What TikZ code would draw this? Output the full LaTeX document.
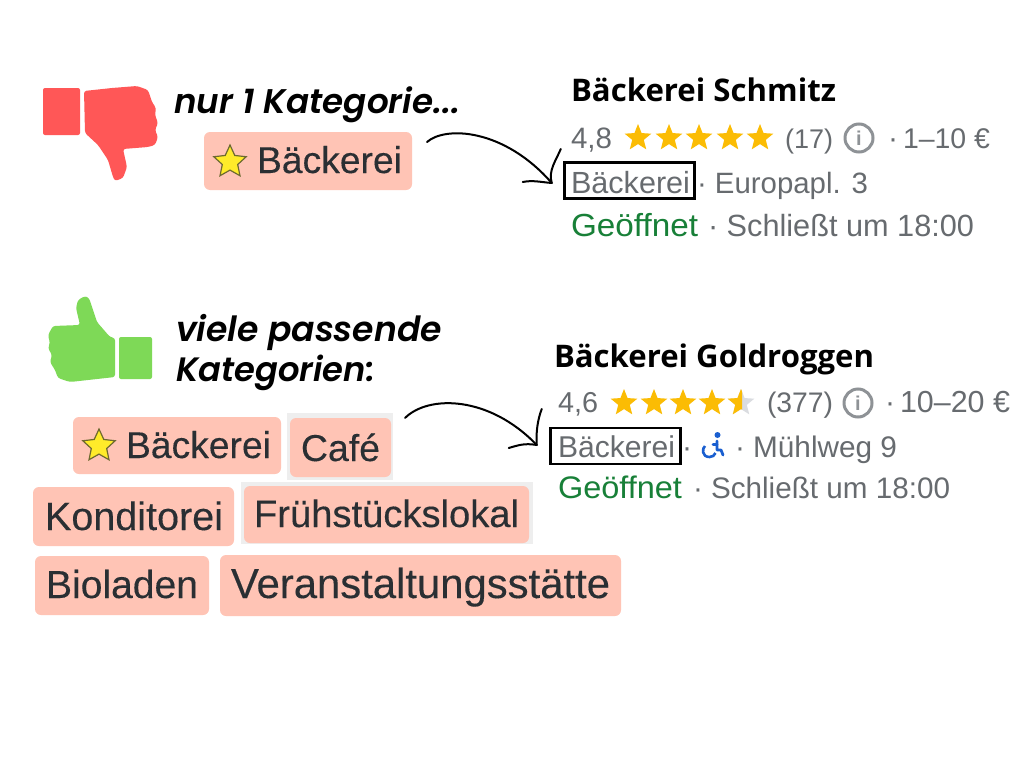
\documentclass[tikz,border=0pt]{standalone}
\usepackage{fontspec}
\usepackage{graphicx}
\usetikzlibrary{shapes.geometric,calc}
\setmainfont{Liberation Sans}
\newfontfamily\chipfont{Liberation Sans}[FakeBold=0.25]
\newfontfamily\headfont{Poppins}[BoldItalicFont={Poppins SemiBold Italic}]
\newfontfamily\titlefont{Open Sans}
\definecolor{chipbg}{HTML}{FFC4B5}
\definecolor{chipink}{HTML}{2A2F33}
\definecolor{greyrect}{HTML}{EEEEEE}
\definecolor{downred}{HTML}{FF5757}
\definecolor{upgreen}{HTML}{7ED957}
\definecolor{mutedink}{HTML}{676B6F}
\definecolor{openink}{HTML}{188038}
\definecolor{staramber}{HTML}{FBBC04}
\definecolor{stargrey}{HTML}{DADCE0}
\definecolor{chipyellow}{HTML}{FFEB2A}
\definecolor{staredge}{HTML}{6E6A30}
\definecolor{wheelblue}{HTML}{1A5FD0}
\definecolor{iconring}{HTML}{8E9296}
\newcommand\fitw[2]{\resizebox{#1pt}{!}{#2}}
\newcommand\fitsq[2]{\scalebox{1}[0.96]{\resizebox{#1pt}{!}{#2}}}
\tikzset{
  txt/.style={inner sep=0pt,outer sep=0pt,anchor=base west,font=\fontsize{30}{30}\selectfont},
  headtxt/.style={txt,font=\fontsize{30}{30}\selectfont\headfont\bfseries\itshape,text=black},
  titletxt/.style={txt,font=\fontsize{30}{30}\selectfont\titlefont\bfseries,text=black},
  chiptxt/.style={txt,text=chipink,font=\fontsize{30}{30}\selectfont\chipfont},
  mutedtxt/.style={txt,text=mutedink},
  opentxt/.style={txt,text=openink},
  chip/.style={fill=chipbg,draw=none,rounded corners=6pt},
  greyback/.style={fill=greyrect,draw=none},
  ratestar/.style={star,star points=5,star point ratio=2.3,fill=staramber,draw=none,inner sep=0pt,minimum size=28pt},
  ratestargrey/.style={ratestar,fill=stargrey},
  chipstar/.style={star,star points=5,star point ratio=2.1,fill=chipyellow,draw=staredge,line width=1.2pt,inner sep=0pt,minimum size=34pt},
  catbox/.style={draw=black,line width=2.5pt,fill=none,inner sep=0pt,minimum width=130pt,minimum height=36pt},
  infoicon/.style={circle,draw=iconring,line width=3pt,minimum size=28pt,inner sep=0pt,text=iconring,font=\fontsize{20}{20}\selectfont\bfseries},
  handline/.style={draw=black,line width=2pt,line cap=round,line join=round},
  thumb/.style={rounded corners=2.5pt,draw=none}
}
\begin{document}
\begin{tikzpicture}[x=1pt,y=-1pt]
\useasboundingbox (0,0) rectangle (1024,768);
\fill[white] (0,0) rectangle (1024,768);

% thumbs down
\fill[downred,rounded corners=2pt] (43,88) rectangle (80,135);
\fill[downred,thumb] (84,91) -- (112,88) -- (137,86) -- (148,90) -- (152,102) -- (156,108) -- (155,115) -- (158,123) -- (155,130) -- (158,137) -- (155,145) -- (148,147) -- (123,149) -- (127,167) -- (123,178) -- (115,181) -- (113,177) -- (108,160) -- (98,145) -- (85,133) -- cycle;
% thumbs up
\fill[upgreen,rounded corners=2pt] (119,337) rectangle (152,379);
\fill[upgreen,thumb] (115,338) -- (110,337) -- (97,322) -- (89,298) -- (85,296) -- (78,300) -- (76,308) -- (80,325) -- (53,326) -- (48,335) -- (50,343) -- (48,348) -- (52,355) -- (50,362) -- (55,370) -- (58,378) -- (70,382) -- (115,377) -- cycle;

% headings
\node[headtxt] (headA) at (174,113) {\fitw{286}{nur 1 Kategorie...}};
\node[headtxt] (headB) at (176,341) {\fitw{266}{viele passende}};
\node[headtxt] (headC) at (176,381) {\fitw{199}{Kategorien:}};

% grey backings
\fill[greyback] (287,413) rectangle (393,480);
\fill[greyback] (241,482) rectangle (533,544);

% chips
\fill[chip] (204,132) rectangle (412,190);
\coordinate (chipA) at (412,161);
\fill[chip] (73,417) rectangle (281,474);
\fill[chip] (290,418) rectangle (391,477);
\coordinate (chipB) at (391,447);
\fill[chip] (33,487) rectangle (234,546);
\fill[chip] (244,486) rectangle (529,543);
\fill[chip] (35,556) rectangle (209,615);
\fill[chip] (220,555) rectangle (621,616);

\node[chipstar] (chipstarA) at (230,162) {};
\node[chipstar] (chipstarB) at (99,446) {};
\node[chiptxt] (catA) at (257,173) {\fitw{145}{Bäckerei}};
\node[chiptxt] (catB) at (126,458) {\fitw{145}{Bäckerei}};
\node[chiptxt] (catC) at (301,461) {\fitw{79}{Café}};
\node[chiptxt] (catD) at (45,530) {\fitw{178}{Konditorei}};
\node[chiptxt] (catE) at (254,527) {\fitw{265}{Frühstückslokal}};
\node[chiptxt] (catF) at (46,598) {\fitw{152}{Bioladen}};
\node[chiptxt] (catG) at (231,598) {\fitw{379}{Veranstaltungsstätte}};

% listing A
\node[titletxt] (titleA) at (571,101) {\fitw{265}{Bäckerei Schmitz}};
\node[mutedtxt] (rateA) at (571,148) {\fitw{41}{4,8}};
\foreach \i/\x in {1/638,2/669,3/699,4/730,5/760}
  \node[ratestar] (starA\i) at (\x,138) {};
\node[mutedtxt] (countA) at (785,148) {\fitw{48}{(17)}};
\node[infoicon] (infoA) at (859,138) {i};
\node[mutedtxt] (dotA) at (888,148) {·};
\node[mutedtxt] (priceA) at (903,148) {\fitw{87}{1–10 €}};
\node[catbox] (boxA) at (629.5,180.5) {};
\node[mutedtxt] (typeA) at (571,193) {\fitw{119}{Bäckerei}};
\node[mutedtxt] (addrA) at (697,193) {\fitw{171}{· Europapl. 3}};
\node[opentxt] (openA) at (571,236) {\fitsq{127}{Geöffnet}};
\node[mutedtxt] (hoursA) at (708,236) {\fitw{266}{· Schließt um 18:00}};

% listing B
\node[titletxt] (titleB) at (554,367) {\fitw{320}{Bäckerei Goldroggen}};
\node[mutedtxt] (rateB) at (558,412) {\fitw{40}{4,6}};
\foreach \i/\x in {1/624,2/654,3/683,4/712}
  \node[ratestar] (starB\i) at (\x,403) {};
\node[ratestargrey] (starB5grey) at (741,403) {};
\begin{scope}
  \clip (725,385) rectangle (742,420);
  \node[ratestar] (starB5) at (741,403) {};
\end{scope}
\node[mutedtxt] (countB) at (767,412) {\fitw{66}{(377)}};
\node[infoicon] (infoB) at (858,403) {i};
\node[mutedtxt] (dotB) at (885,412) {·};
\node[mutedtxt] (priceB) at (900,412) {\fitw{110}{10–20 €}};
\node[catbox] (boxB) at (615.5,446) {};
\node[mutedtxt] (typeB) at (558,457) {\fitw{117}{Bäckerei}};
\node[mutedtxt] (dotC) at (682,457) {·};
% wheelchair icon
\fill[wheelblue] (717.5,435) circle (3);
\draw[wheelblue,line width=2.8pt,line join=round,line cap=round] (717,441) -- (717,450) -- (721,450) -- (723,455);
\draw[wheelblue,line width=2.8pt,line cap=round] (717,444.5) -- (713,444.5);
\draw[wheelblue,line width=2.6pt] (705,446) .. controls (702,448) and (701.5,457) .. (709.5,457) .. controls (712.5,457) and (714.5,455.5) .. (715.5,453);
\node[mutedtxt] (addrB) at (735,457) {\fitw{162}{· Mühlweg 9}};
\node[opentxt] (openB) at (558,498) {\fitsq{124}{Geöffnet}};
\node[mutedtxt] (hoursB) at (693,498) {\fitw{257}{· Schließt um 18:00}};

% hand drawn arrows
\coordinate (arrAs) at ($(chipA)+(15,-19)$);
\coordinate (arrAe) at ($(boxA.west)+(-11.5,2.5)$);
\draw[handline] (arrAs) .. controls +(18,-16) and +(-48,-55) .. (arrAe);
\draw[handline] ($(arrAe)+(9,-34)$) .. controls +(-4,10) and +(-4,-12) .. (arrAe);
\draw[handline] ($(arrAe)+(-29,-1)$) .. controls +(10,-2) and +(-12,-1) .. (arrAe);

\coordinate (arrBs) at ($(chipB)+(14,-29)$);
\coordinate (arrBe) at ($(boxB.west)+(-12.5,-1)$);
\draw[handline] (arrBs) .. controls +(23,-23) and +(-48,-50) .. (arrBe);
\draw[handline] ($(arrBe)+(5,-36)$) .. controls +(-4,10) and +(-1,-12) .. (arrBe);
\draw[handline] ($(arrBe)+(-28,3)$) .. controls +(10,-3) and +(-12,-2) .. (arrBe);
\end{tikzpicture}
\end{document}
